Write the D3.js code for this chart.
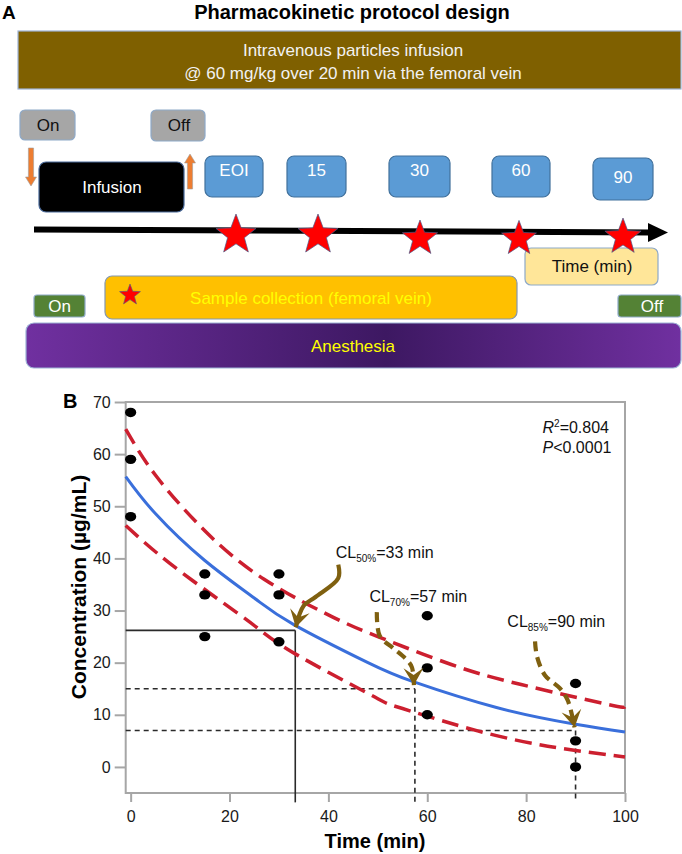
<!DOCTYPE html>
<html><head><meta charset="utf-8">
<script src="https://cdn.jsdelivr.net/npm/d3@7"></script>
<style>
body{margin:0;background:#fff}
svg{display:block}
text{font-family:"Liberation Sans",Arial,Helvetica,sans-serif}
</style>
</head><body>
<svg id="chart" width="682" height="854"></svg>
<script>
// ---------------- data ----------------
const sampleLabels = ["EOI", "15", "30", "60", "90"];
const obsTime = [0, 0, 0, 15, 15, 15, 30, 30, 30, 60, 60, 60, 90, 90, 90];
const obsConc = [68, 59, 48, 37, 33, 25, 37, 33, 24, 29, 19, 10, 16, 5, 0];
const fitTime = [-1, 5, 15, 25, 33, 48, 57, 74, 90, 100];
const fitConc = [55.7, 48.6, 39.6, 32.4, 27.3, 20.0, 16.4, 11.4, 8.2, 6.7];
const upperTime = [-1, 5, 15, 27, 41, 50, 65, 79, 96, 100];
const upperConc = [64.8, 56.0, 45.3, 36.0, 28.7, 25.0, 19.6, 15.8, 12.1, 11.5];
const lowerTime = [-1, 8, 20, 26, 34, 49, 55, 74, 92, 100];
const lowerConc = [46.3, 39.0, 30.6, 26.4, 21.3, 13.6, 11.2, 6.0, 2.9, 1.9];
const clLabels = ["50%", "70%", "85%"];
const clTime = [33.3, 57.5, 90];
const clConc = [26.2, 15, 7];
const clText = ["=33 min", "=57 min", "=90 min"];
const xTicks = [0, 20, 40, 60, 80, 100];
const yTicks = [0, 10, 20, 30, 40, 50, 60, 70];

// ---------------- setup ----------------
const svg = d3.select("#chart");
const FONT = '"Liberation Sans",Arial,sans-serif';
const defs = svg.append("defs");

function starPath(cx, cy, R, ratio) {
  const r = R * ratio, pts = [];
  for (let i = 0; i < 10; i++) {
    const a = -Math.PI / 2 + i * Math.PI / 5;
    const rr = i % 2 === 0 ? R : r;
    pts.push([cx + rr * Math.cos(a), cy + rr * Math.sin(a)]);
  }
  return "M" + pts.map(p => p.join(",")).join("L") + "Z";
}

// ================= Panel A =================
const A = svg.append("g");
A.append("text").attr("x", 2).attr("y", 19).attr("font-size", 19).attr("font-weight", "bold").text("A");
A.append("text").attr("x", 352).attr("y", 19).attr("text-anchor", "middle")
  .attr("font-size", 20).attr("font-weight", "bold").text("Pharmacokinetic protocol design");

function box(g, x0, y0, x1, y1, fill, stroke, rx) {
  return g.append("rect").attr("x", x0).attr("y", y0).attr("width", x1 - x0).attr("height", y1 - y0)
    .attr("rx", rx).attr("fill", fill).attr("stroke", stroke).attr("stroke-width", 1.2);
}
function label(g, x, y, txt, fill, size) {
  return g.append("text").attr("x", x).attr("y", y).attr("text-anchor", "middle")
    .attr("font-size", size || 17).attr("fill", fill).text(txt);
}

// brown infusion banner
box(A, 18, 31, 681, 89, "#7f6000", "#9db3d6", 0);
label(A, 353, 56, "Intravenous particles infusion", "#f2f2f2");
label(A, 353, 79, "@ 60 mg/kg over 20 min via the femoral vein", "#f2f2f2");

// pump On/Off
box(A, 20, 110, 75, 140, "#a6a6a6", "#8ea9c8", 5);
label(A, 48, 131, "On", "#111");
box(A, 151, 110, 205, 141, "#a6a6a6", "#8ea9c8", 5);
label(A, 179, 131, "Off", "#111");

// orange block arrows
function blockArrow(g, cx, yFrom, yTo) {
  const dir = yTo > yFrom ? 1 : -1, hl = 9, sw = 2.6, hw = 5.5;
  const yb = yTo - dir * hl;
  const p = [[cx - sw, yFrom], [cx + sw, yFrom], [cx + sw, yb], [cx + hw, yb], [cx, yTo], [cx - hw, yb], [cx - sw, yb]];
  g.append("path").attr("d", "M" + p.map(q => q.join(",")).join("L") + "Z")
    .attr("fill", "#ed7d31").attr("stroke", "#a0a0a0").attr("stroke-width", 0.6);
}
blockArrow(A, 31, 148, 186);
blockArrow(A, 190, 189, 154);

// infusion black box
box(A, 39, 162, 184, 212, "#000", "#4a6a9a", 7);
label(A, 112, 193, "Infusion", "#fff");

// sampling time boxes
const sampleBoxX0 = [205, 287, 389, 492, 593];
const sampleBoxX1 = [263, 346, 450, 550, 653];
const sampleBoxY0 = [156, 156, 156, 156, 158];
const sampleBoxY1 = [197, 197, 197, 197, 200];
sampleLabels.forEach((s, i) => {
  box(A, sampleBoxX0[i], sampleBoxY0[i], sampleBoxX1[i], sampleBoxY1[i], "#5b9bd5", "#41719c", 7);
  label(A, (sampleBoxX0[i] + sampleBoxX1[i]) / 2, i === 4 ? 183 : 176, s, "#fff");
});

// timeline arrow
A.append("path").attr("d", "M34,229.5 L651,232.5").attr("stroke", "#000").attr("stroke-width", 6).attr("fill", "none");
A.append("path").attr("d", "M648,223 L668,232.5 L648,242 Z").attr("fill", "#000");

// time box
box(A, 525, 248, 658, 285, "#ffe699", "#8ea9c8", 6);
label(A, 592, 272, "Time (min)", "#111");

// stars on timeline
const starCX = [236, 318, 420, 519, 623];
const starCY = [235, 235, 238.5, 238.7, 237];
const starR = [21, 21, 18.5, 18.3, 19];
sampleLabels.forEach((s, i) => {
  A.append("path").attr("d", starPath(starCX[i], starCY[i], starR[i], 0.42))
    .attr("fill", "#ff0000").attr("stroke", "#4a5a8a").attr("stroke-width", 0.7);
});

// sample collection
box(A, 105, 276, 517, 319, "#ffc000", "#8497b0", 7);
label(A, 311, 304, "Sample collection (femoral vein)", "#ffff00");
A.append("path").attr("d", starPath(130, 295, 11, 0.42)).attr("fill", "#ff0000").attr("stroke", "#4a5a8a").attr("stroke-width", 0.6);

// anesthesia on/off
box(A, 34, 295, 85, 317, "#548235", "#8ea9c8", 3);
label(A, 59.5, 312, "On", "#fff");
box(A, 618, 295, 681, 317, "#548235", "#8ea9c8", 3);
label(A, 652, 312, "Off", "#fff");

// anesthesia bar
const grad = defs.append("linearGradient").attr("id", "anes").attr("x1", "0").attr("x2", "1").attr("y1", "0").attr("y2", "0");
grad.append("stop").attr("offset", "0").attr("stop-color", "#7030a0");
grad.append("stop").attr("offset", "0.55").attr("stop-color", "#3d1862");
grad.append("stop").attr("offset", "1").attr("stop-color", "#7030a0");
box(A, 26, 323, 681, 368, "url(#anes)", "#9db3d6", 8);
label(A, 353, 352, "Anesthesia", "#ffff00");

// ================= Panel B =================
const x = d3.scaleLinear().domain([-1, 100]).range([125.7, 625]);
const y = d3.scaleLinear().domain([-5, 70]).range([793, 402]);
const B = svg.append("g");

B.append("text").attr("x", 63).attr("y", 408).attr("font-size", 20).attr("font-weight", "bold").text("B");

// axes
const gy = B.append("g").attr("transform", `translate(${x.range()[0]},0)`)
  .call(d3.axisLeft(y).tickValues(yTicks).tickSize(11).tickPadding(4).tickFormat(d3.format("d")));
const gx = B.append("g").attr("transform", `translate(0,${y.range()[0]})`)
  .call(d3.axisBottom(x).tickValues(xTicks).tickSize(9).tickPadding(9).tickFormat(d3.format("d")));
[gy, gx].forEach(g => {
  g.select(".domain").remove();
  g.selectAll(".tick line").attr("stroke", "#a6a6a6").attr("stroke-width", 2);
  g.selectAll(".tick text").attr("font-size", 16).attr("fill", "#1a1a1a").attr("font-family", FONT);
});

// frame
B.append("rect").attr("x", x.range()[0]).attr("y", y.range()[1])
  .attr("width", x.range()[1] - x.range()[0]).attr("height", y.range()[0] - y.range()[1])
  .attr("fill", "none").attr("stroke", "#a6a6a6").attr("stroke-width", 2);

// axis titles
B.append("text").attr("transform", `translate(86,587) rotate(-90)`).attr("text-anchor", "middle")
  .attr("font-size", 21).attr("font-weight", "bold").text("Concentration (µg/mL)");
B.append("text").attr("x", 375).attr("y", 848).attr("text-anchor", "middle")
  .attr("font-size", 20).attr("font-weight", "bold").text("Time (min)");

// CL reference lines
const yBelow = -6.8;
clTime.forEach((t, i) => {
  const dash = i === 0 ? null : "5,4";
  B.append("line").attr("x1", x.range()[0]).attr("x2", x(t)).attr("y1", y(clConc[i])).attr("y2", y(clConc[i]))
    .attr("stroke", "#2a2a2a").attr("stroke-width", 1.6).attr("stroke-dasharray", dash);
  B.append("line").attr("x1", x(t)).attr("x2", x(t)).attr("y1", y(clConc[i])).attr("y2", y(yBelow))
    .attr("stroke", "#2a2a2a").attr("stroke-width", 1.6).attr("stroke-dasharray", dash);
});

// confidence bands
const line = d3.line().x(d => x(d[0])).y(d => y(d[1])).curve(d3.curveNatural);
const upper = upperTime.map((t, i) => [t, upperConc[i]]);
const lower = lowerTime.map((t, i) => [t, lowerConc[i]]);
[upper, lower].forEach(d => {
  B.append("path").attr("d", line(d)).attr("fill", "none").attr("stroke", "#cc1f2f")
    .attr("stroke-width", 3.5).attr("stroke-dasharray", "17,8");
});

// fitted curve
const fit = fitTime.map((t, i) => [t, fitConc[i]]);
B.append("path").attr("d", line(fit)).attr("fill", "none").attr("stroke", "#3a6fdb").attr("stroke-width", 3);

// observed points
B.selectAll("ellipse.obs").data(obsTime.map((t, i) => [t, obsConc[i]])).join("ellipse")
  .attr("class", "obs").attr("cx", d => x(d[0])).attr("cy", d => y(d[1]))
  .attr("rx", 5.6).attr("ry", 4.7).attr("fill", "#000");

// annotation arrows
const brown = "#7f6010";
defs.append("marker").attr("id", "ah").attr("markerUnits", "userSpaceOnUse")
  .attr("viewBox", "-20 -12 24 24").attr("markerWidth", 24).attr("markerHeight", 24)
  .attr("refX", 0).attr("refY", 0).attr("orient", "auto")
  .append("path").attr("d", "M0,0 L-17,-10 L-10,0 L-17,10 Z").attr("fill", brown);
const arrowPts = [
  [[42, 38.8], [42, 36.2], [37.4, 32.6], [35.0, 30.9], [33.4, 26.8]],
  [[49.8, 29.7], [50.4, 25.1], [53.1, 22.8], [55.9, 20.5], [56.9, 19.1], [57.3, 15.7]],
  [[81.8, 24.1], [82.2, 21.2], [83.8, 17.6], [86.8, 15.1], [88.4, 12.8], [89.8, 7.6]]
];
const aLine = d3.line().x(d => x(d[0])).y(d => y(d[1])).curve(d3.curveCatmullRom.alpha(0.5));
arrowPts.forEach((pts, i) => {
  B.append("path").attr("d", aLine(pts)).attr("fill", "none").attr("stroke", brown)
    .attr("stroke-width", 4.2).attr("stroke-dasharray", i === 0 ? null : "10,6")
    .attr("marker-end", "url(#ah)");
});

// CL labels
const clLabelX = [41.5, 48.3, 76.2];
const clLabelY = [40.0, 31.7, 26.8];
clLabels.forEach((c, i) => {
  const t = B.append("text").attr("x", x(clLabelX[i])).attr("y", y(clLabelY[i])).attr("font-size", 16).attr("fill", "#111");
  t.append("tspan").text("CL");
  t.append("tspan").attr("font-size", 10).attr("dy", 4).text(c);
  t.append("tspan").attr("dy", -4).text(clText[i]);
});

// stats
const s1 = B.append("text").attr("x", 542.5).attr("y", 433).attr("font-size", 16).attr("fill", "#111");
s1.append("tspan").attr("font-style", "italic").text("R");
s1.append("tspan").attr("font-size", 10).attr("dy", -6).text("2");
s1.append("tspan").attr("dy", 6).text("=0.804");
const s2 = B.append("text").attr("x", 542.5).attr("y", 453).attr("font-size", 16).attr("fill", "#111");
s2.append("tspan").attr("font-style", "italic").text("P");
s2.append("tspan").text("<0.0001");
</script>
</body></html>
